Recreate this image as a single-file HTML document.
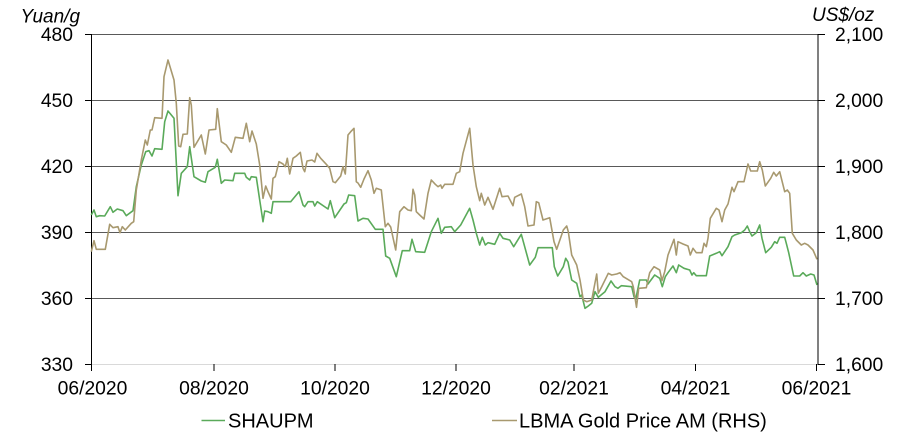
<!DOCTYPE html>
<html>
<head>
<meta charset="utf-8">
<style>
  html, body { margin: 0; padding: 0; background: #ffffff; }
  svg { display: block; }
  text { font-family: "Liberation Sans", Arial, sans-serif; fill: #000; }
</style>
</head>
<body>
<svg width="911" height="447" viewBox="0 0 911 447" xmlns="http://www.w3.org/2000/svg">
  <rect width="911" height="447" fill="#ffffff"/>

  <!-- gridlines -->
  <g stroke="#595959" stroke-width="1">
    <line x1="91.5" y1="34.5" x2="818" y2="34.5"/>
    <line x1="91.5" y1="100.5" x2="818" y2="100.5"/>
    <line x1="91.5" y1="166.5" x2="818" y2="166.5"/>
    <line x1="91.5" y1="232.5" x2="818" y2="232.5"/>
    <line x1="91.5" y1="298.5" x2="818" y2="298.5"/>
  </g>
  <!-- bottom axis -->
  <line x1="91.5" y1="364.5" x2="818" y2="364.5" stroke="#d9d9d9" stroke-width="1"/>

  <!-- left axis -->
  <g stroke="#000" stroke-width="1">
    <line x1="91.5" y1="34" x2="91.5" y2="365"/>
    <line x1="85" y1="34.5" x2="91.5" y2="34.5"/>
    <line x1="85" y1="100.5" x2="91.5" y2="100.5"/>
    <line x1="85" y1="166.5" x2="91.5" y2="166.5"/>
    <line x1="85" y1="232.5" x2="91.5" y2="232.5"/>
    <line x1="85" y1="298.5" x2="91.5" y2="298.5"/>
    <line x1="85" y1="364.5" x2="91.5" y2="364.5"/>
  </g>
  <!-- right axis -->
  <g stroke="#000" stroke-width="1">
    <line x1="818" y1="34" x2="818" y2="365"/>
    <line x1="818" y1="34.5" x2="825" y2="34.5"/>
    <line x1="818" y1="100.5" x2="825" y2="100.5"/>
    <line x1="818" y1="166.5" x2="825" y2="166.5"/>
    <line x1="818" y1="232.5" x2="825" y2="232.5"/>
    <line x1="818" y1="298.5" x2="825" y2="298.5"/>
    <line x1="818" y1="364.5" x2="825" y2="364.5"/>
  </g>
  <!-- x ticks -->
  <g stroke="#000" stroke-width="1">
    <line x1="91.5" y1="364" x2="91.5" y2="371"/>
    <line x1="214" y1="364" x2="214" y2="371"/>
    <line x1="335" y1="364" x2="335" y2="371"/>
    <line x1="456" y1="364" x2="456" y2="371"/>
    <line x1="574" y1="364" x2="574" y2="371"/>
    <line x1="695.5" y1="364" x2="695.5" y2="371"/>
    <line x1="816.5" y1="364" x2="816.5" y2="371"/>
  </g>

  <!-- SHAUPM (green) -->
  <polyline fill="none" stroke="#5aaa5a" stroke-width="1.6" stroke-linejoin="round" points="91.3,215 94,210 96.3,216.7 99.7,215.7 104.7,216 110.3,206.7 113,212.3 117.3,209 123,210.7 126.3,215.7 133,210.7 136.3,186.7 141.3,165 145.7,151.7 149,150.7 152,156 154.7,148.7 162,149.3 164.7,121.7 168,111 174,118.3 178,195.7 181.3,173.3 187.3,166.7 189.7,146.7 194,176.7 201.3,181 205.3,182.3 208,171.7 215.3,167.3 217.3,159.3 221.3,183.3 224.7,180 233,180.7 234.7,173.3 244.7,173.3 246.3,177.3 249.7,180 251.3,176.7 256.3,177.3 259.7,200 263,221.7 264.7,211 268,211.7 271.3,213.3 273,201.7 290.7,201.7 299,191.7 303,205 304.7,206.7 308,201.7 313,201.7 314.7,206 317.3,201.7 328,209 330.3,200.7 334.7,217.7 344,204 346.3,202.7 348.7,195 354.7,195.7 358,221 363,218.3 368,219 375.3,229.3 383,229.3 385.7,256 389.7,258.3 396.3,276.7 402.3,250.7 409.7,250.7 412,239.3 415.7,251.7 424.7,252.3 431.3,231.7 438,218.3 441.3,233.3 444.7,227.3 451.3,226.7 454.7,231.7 460.7,225 469.7,208.3 473,220 476.3,233.3 479.7,245 482.3,237.3 485.3,245 488,242.7 494.7,244.3 499.7,233.3 503,238.3 509.7,240 513.7,246.7 521.3,234.3 529.7,265 535.3,257.3 538,247.7 552.3,247.7 554.3,266.7 557.7,276 563.3,266.7 565.7,258.3 568,262 571.7,280 576.7,283.3 580,296.7 581.7,295 585,308.3 588.3,306 591.7,303.3 595,291.7 598.3,297.3 605,291.7 611,281 615,286.7 618,288.3 621.3,285.7 631.7,286.7 634,296.7 635.7,299.3 639.7,280 646.3,280 648,284 654.7,275 659.7,278.3 662.3,286.7 665.3,276.7 668,272.7 673,266 676.3,272.7 678.7,265 684,268.3 689.7,270 692,275 693.7,272.7 696.3,275.7 706.3,275.7 709.7,256 716.3,253.3 719.7,251.7 722,255.7 728,246.7 732,236.7 734.7,235 741.3,232.7 744.7,230 747.3,226 749.7,231.7 752,236 756.3,232.7 759.7,225 762,238.3 765.7,252.7 771.3,247.3 774.7,241.7 777,243.3 779.7,237.3 784.7,237.3 786.3,243.3 788.7,252.7 793.7,276 799.7,276 803,272.7 806.3,276 810.7,274 814,275 817,285"/>

  <!-- LBMA Gold (tan) -->
  <polyline fill="none" stroke="#a8996f" stroke-width="1.6" stroke-linejoin="round" points="91.3,251.7 94,240.7 96.3,249.3 105.3,249.3 109.7,224.3 113,227.7 118,226.7 120,232.7 122.3,226.7 125.3,230 131.3,223.3 133.7,221.7 136.3,190 141.3,160 145.3,140 147.3,145 150.3,130 152,130 154.7,117.7 162,118.3 164,76.7 168,60 174,80 176.3,103.3 178.7,146 180.7,146.7 183,134.3 187.3,134 189.7,97.7 191.3,105 194,147.3 201.3,135 205.3,154 209,130 215.7,129.3 217.3,108.7 221.3,141.7 226.3,145 231.3,152.3 235.3,137.3 243,138.3 246.3,123.3 249.7,141.7 252,131 256.3,144 259.7,165 263,198.3 265.7,186 268,191.7 271.3,199 273,178.3 275.3,176.7 279,161.7 283,164 285.3,166.7 287.3,158.3 289.7,174 293,158.3 296.3,156 300.3,152.3 303,168.3 304.7,171.7 307,161 312,160 314.7,162 317,153.3 320.7,158.3 326.3,164.3 329.7,168.3 333,181.7 335.3,182.7 340.7,176 343,166.7 345.3,174 348,135 350.7,131.7 354,128.3 356.3,181.7 358,183 360.7,187.3 364,179 368,170.7 371.3,180 374,193.3 376.3,188.3 381.3,190 385.3,226.7 388,223.3 390.7,227 395.7,250 399.7,211.7 404,206.7 408,210 411.3,210.7 413,189.3 414.7,195 416.3,211.7 419.7,215 424,219 428,193.3 431.3,180 435.3,184.3 438,186.7 440.7,185 442,188.3 444.7,184.3 453,184.3 456.3,173.3 459.7,171.7 463,153.3 469.7,128.3 473,165 476.3,186.7 479.7,200.7 481.3,193.3 484.7,205 488,197.3 493,209.3 499.7,188.3 502,196.7 508,196 513,205.7 514.7,197.3 521.3,194 524.7,206.7 528,226 534,225 536.3,201.7 538.7,202.7 543,220 549.7,217.7 554,241.7 556.7,249.3 563.3,230 566.7,226 568.3,231.7 571.7,255 576.7,265 580,280 583.3,300 586.7,301.7 591.7,300 596.7,274 598.3,293.3 601.7,286.7 608.3,273.3 611.7,275 616.7,274 620,272.7 623.3,276.7 631.7,281.7 633.3,286.7 636.5,307.3 638.7,288.3 646.3,287.7 649.7,272.7 654,266.7 659.7,270 662,280.7 664.7,271.7 668,255 674,239.3 676.3,255 678,241.7 683,244 688,246 690.3,255 693,248.3 696.3,252.7 702,252.7 704,243.3 706.3,246.7 708,238.3 710.3,218.3 716.3,208.3 719,210 722,221.7 724.7,210 728,204 732,187.3 734,191.7 738,181.7 744,181.7 748,164 750.7,171 757.3,171 759.7,161.7 762.3,170 765.3,186 770.7,178.3 773.7,172.3 776.3,176 779.7,171.7 784.7,191.7 787.3,190 789.7,193.3 792.3,233.3 796.3,240 801.3,245 804.7,243.3 808,245 813,250 817,259.3"/>

  <!-- axis titles -->
  <text x="20.5" y="22.5" font-size="19" font-style="italic">Yuan/g</text>
  <text x="812" y="21" font-size="19" font-style="italic">US$/oz</text>

  <!-- left labels -->
  <g font-size="19.3" text-anchor="end">
    <text x="73" y="41">480</text>
    <text x="73" y="107">450</text>
    <text x="73" y="173">420</text>
    <text x="73" y="239">390</text>
    <text x="73" y="305">360</text>
    <text x="73" y="371">330</text>
  </g>
  <!-- right labels -->
  <g font-size="19.3" text-anchor="start">
    <text x="835" y="41">2,100</text>
    <text x="835" y="107">2,000</text>
    <text x="835" y="173">1,900</text>
    <text x="835" y="239">1,800</text>
    <text x="835" y="305">1,700</text>
    <text x="835" y="371">1,600</text>
  </g>
  <!-- x labels -->
  <g font-size="19.3" text-anchor="middle">
    <text x="92.5" y="394.5">06/2020</text>
    <text x="214" y="394.5">08/2020</text>
    <text x="335" y="394.5">10/2020</text>
    <text x="456" y="394.5">12/2020</text>
    <text x="574" y="394.5">02/2021</text>
    <text x="695.5" y="394.5">04/2021</text>
    <text x="816.5" y="394.5">06/2021</text>
  </g>

  <!-- legend -->
  <line x1="201.5" y1="420.5" x2="225" y2="420.5" stroke="#5aaa5a" stroke-width="1.6"/>
  <text x="228" y="427.5" font-size="20">SHAUPM</text>
  <line x1="492" y1="420.5" x2="517" y2="420.5" stroke="#a8996f" stroke-width="1.6"/>
  <text x="519" y="427.5" font-size="20">LBMA Gold Price AM (RHS)</text>
</svg>
</body>
</html>
